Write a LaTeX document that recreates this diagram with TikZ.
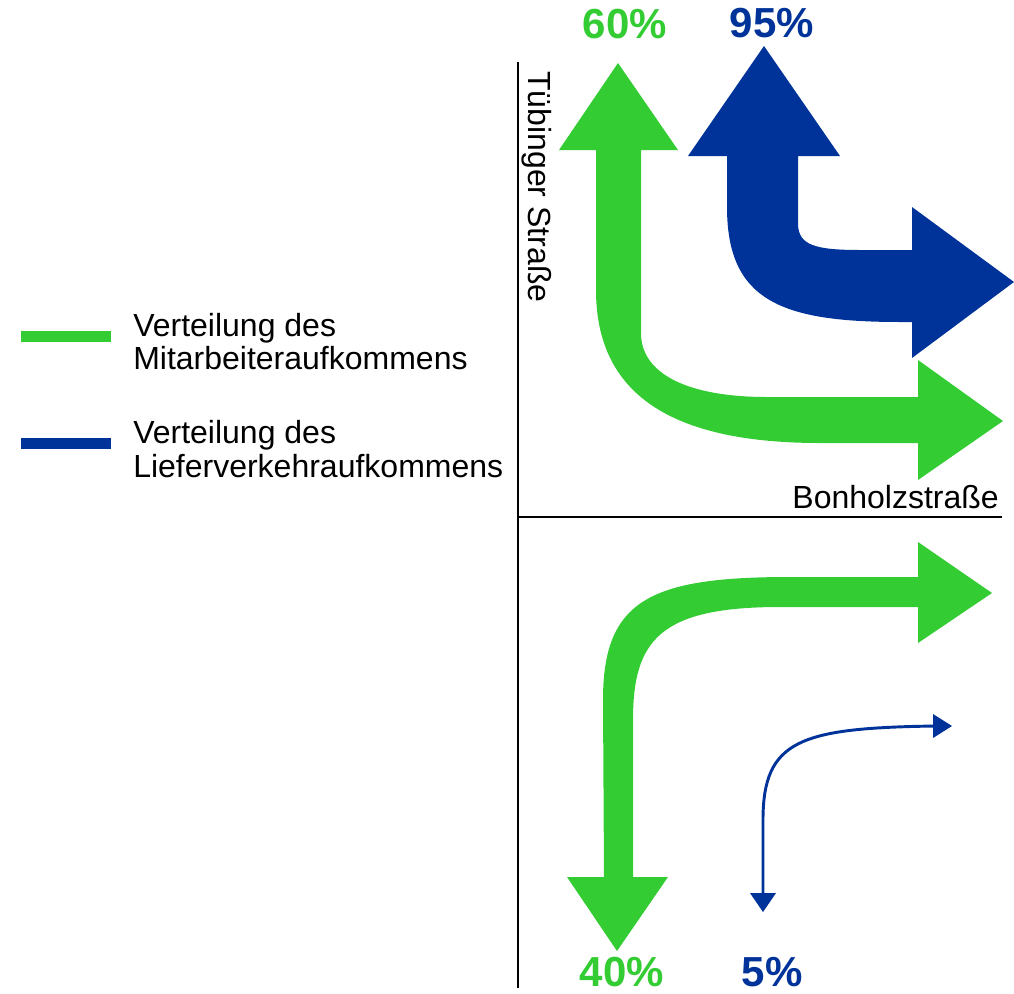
\documentclass[tikz,border=0pt]{standalone}
\usepackage{fontspec}
\setmainfont{Liberation Sans}
\definecolor{lgreen}{RGB}{51,204,51}
\definecolor{dblue}{RGB}{0,51,153}
\begin{document}
\begin{tikzpicture}[x=0.75pt,y=-0.75pt,
  road/.style={draw=black,line width=1.9pt},
  lbl/.style={inner sep=0pt,font=\fontsize{24}{28}\selectfont},
  pct/.style={inner sep=0pt,font=\fontsize{31.5}{36}\selectfont\bfseries},
  legbar/.style={line width=8.3pt}]
\useasboundingbox (0,0) rectangle (1014,993);
% roads
\coordinate (vtop) at (518,62);
\coordinate (vbot) at (518,988);
\coordinate (hl) at (518,517);
\coordinate (hr) at (1002,517);
\draw[road] (vtop) -- (vbot);
\draw[road] (hl) -- (hr);
\node[lbl,anchor=base east] (bonholz) at (999,508) {Bonholzstraße};
\node[lbl,anchor=base west,rotate=-90] (tuebinger) at (528,71) {Tübinger Straße};
% legend
\coordinate (g1) at (21,336.5);
\coordinate (g2) at (111,336.5);
\coordinate (b1) at (21,443.5);
\coordinate (b2) at (111,443.5);
\draw[legbar,lgreen] (g1) -- (g2);
\draw[legbar,dblue] (b1) -- (b2);
\node[lbl,anchor=base west] (l1) at (133,336) {Verteilung des};
\node[lbl,anchor=base west] (l2) at (133,369) {Mitarbeiteraufkommens};
\node[lbl,anchor=base west] (l3) at (133,443) {Verteilung des};
\node[lbl,anchor=base west] (l4) at (133,477) {Lieferverkehraufkommens};
% green upper arrow
\fill[lgreen] (618,63) -- (678,150) -- (641,150) -- (641,333)
  .. controls (641,375) and (690,397) .. (767,397) -- (918,397) -- (918,360)
  -- (1003,421) -- (918,480) -- (918,443) -- (820,443)
  .. controls (680,443) and (596,400) .. (596,290) -- (596,150) -- (559,150) -- cycle;
% blue upper arrow
\fill[dblue] (764,46) -- (840,156) -- (798,156) -- (798,225)
  .. controls (799,245) and (815,250) .. (860,250) -- (912,250) -- (912,207)
  -- (1014,282) -- (912,358) -- (912,322) -- (900,322)
  .. controls (780,322) and (727,300) .. (727,207) -- (727,156) -- (688,156) -- cycle;
% green lower arrow
\fill[lgreen] (617,951) -- (567,877) -- (604,877) -- (603,700)
  .. controls (603,600) and (650,577) .. (790,577) -- (918,577) -- (918,542)
  -- (992,593) -- (918,643) -- (918,607) -- (780,607)
  .. controls (660,607) and (633,640) .. (633,720) -- (633,877) -- (668,877) -- cycle;
% blue thin arrow
\draw[dblue,line width=2.2pt] (763,895) -- (763,820) .. controls (763,740) and (800,728) .. (935,726);
\fill[dblue] (750,893) -- (776,893) -- (763,912) -- cycle;
\fill[dblue] (933,714) -- (952,726) -- (933,738) -- cycle;
% percentages
\node[pct,lgreen,anchor=base] (p60) at (625,38) {60\%};
\node[pct,dblue,anchor=base] (p95) at (772,37) {95\%};
\node[pct,lgreen,anchor=base] (p40) at (622,986) {40\%};
\node[pct,dblue,anchor=base] (p5) at (772,986) {5\%};
\end{tikzpicture}
\end{document}
